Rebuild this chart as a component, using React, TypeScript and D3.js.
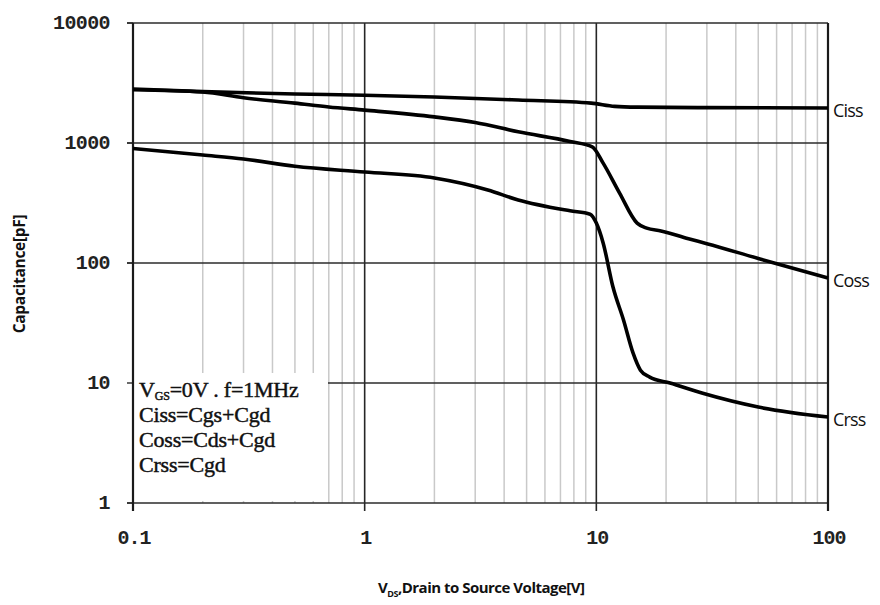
import React from 'react';
import * as d3 from 'd3';

// data (VDS in V, capacitance in pF)
const cissV = [0.1, 0.2, 0.5, 1, 2, 4.6, 9.5, 12, 15, 30, 100];
const cissC = [2820, 2680, 2560, 2500, 2420, 2280, 2150, 2020, 1990, 1970, 1960];

const cossV = [0.1, 0.2, 0.3, 0.5, 0.7, 1, 2, 3, 4.6, 7.7, 9.6, 10.7, 12.6, 15, 16.5, 19, 25, 30, 50, 100];
const cossC = [2780, 2660, 2380, 2150, 1995, 1880, 1650, 1480, 1240, 1030, 930, 680, 383, 215, 195, 185, 159, 145, 109, 75];

const crssV = [0.1, 0.2, 0.3, 0.5, 1, 2, 3.4, 4.6, 7.7, 9.4, 10, 10.7, 11.8, 13.1, 14.4, 15.5, 17, 20.8, 28.8, 50, 100];
const crssC = [900, 794, 736, 640, 573, 511, 406, 335, 272, 255, 215, 147, 63, 33.5, 17.8, 12.8, 11.2, 10, 8.2, 6.3, 5.2];

const seriesNames = ['Ciss', 'Coss', 'Crss'];
const xTicks = [0.1, 1, 10, 100];
const xTickLabels = ['0.1', '1', '10', '100'];
const yTicks = [1, 10, 100, 1000, 10000];
const yTickLabels = ['1', '10', '100', '1000', '10000'];
const notes = ['Ciss=Cgs+Cgd', 'Coss=Cds+Cgd', 'Crss=Cgd'];

export default function App() {
  const width = 880;
  const height = 605;
  const left = 133;
  const right = 828;
  const top = 23;
  const bottom = 503;

  const x = d3.scaleLog().domain([0.1, 100]).range([left, right]);
  const y = d3.scaleLog().domain([1, 10000]).range([bottom, top]);

  const line = d3
    .line<[number, number]>()
    .x((d) => x(d[0]))
    .y((d) => y(d[1]))
    .curve(d3.curveMonotoneX);

  const series = [
    cissV.map((v, i) => [v, cissC[i]] as [number, number]),
    cossV.map((v, i) => [v, cossC[i]] as [number, number]),
    crssV.map((v, i) => [v, crssC[i]] as [number, number]),
  ];

  // minor grid: 2..9 in each decade
  const minor: number[] = [];
  [0.1, 1, 10].forEach((d) => {
    for (let k = 2; k <= 9; k++) minor.push(d * k);
  });

  // annotation box (white, hides grid behind it)
  const boxX0 = left + 2;
  const boxX1 = 328;
  const boxY0 = 373;
  const boxY1 = bottom - 2;

  return (
    <svg
      width={width}
      height={height}
      style={{ position: 'absolute', top: 0, left: 0, background: '#fff' }}
    >
      <rect x={0} y={0} width={width} height={height} fill="#fff" />
      {/* minor vertical grid */}
      {minor.map((v) => (
        <line key={'m' + v} x1={x(v)} x2={x(v)} y1={top} y2={bottom} stroke="#c9c9c9" strokeWidth={1.5} />
      ))}
      {/* major vertical grid */}
      {[1, 10].map((v) => (
        <line key={'M' + v} x1={x(v)} x2={x(v)} y1={top} y2={bottom + 8} stroke="#262626" strokeWidth={1.6} />
      ))}
      {/* horizontal grid */}
      {yTicks.map((v) => (
        <line
          key={'h' + v}
          x1={v === 10 ? boxX1 : left - 6}
          x2={right}
          y1={y(v)}
          y2={y(v)}
          stroke="#2b2b2b"
          strokeWidth={v === 1 ? 1.4 : 1.6}
        />
      ))}
      {yTicks.map((v) => (
        <line key={'yt' + v} x1={left - 6} x2={left} y1={y(v)} y2={y(v)} stroke="#2b2b2b" strokeWidth={1.4} />
      ))}
      <rect x={boxX0} y={boxY0} width={boxX1 - boxX0} height={boxY1 - boxY0} fill="#fff" />
      {/* frame */}
      <line x1={left} x2={left} y1={top} y2={bottom + 8} stroke="#1a1a1a" strokeWidth={2.2} />
      <line x1={right} x2={right} y1={top} y2={bottom + 8} stroke="#1a1a1a" strokeWidth={2.2} />
      {/* curves */}
      {series.map((s, i) => (
        <path key={seriesNames[i]} d={line(s) || ''} fill="none" stroke="#000" strokeWidth={3.6} strokeLinejoin="round" />
      ))}
      {/* curve labels */}
      {series.map((s, i) => (
        <text
          key={'l' + i}
          x={right + 5}
          y={y(s[s.length - 1][1]) + 4}
          dominantBaseline="middle"
          fontFamily="'Open Sans', sans-serif"
          fontSize={18}
          letterSpacing={-0.8}
          fill="#111"
        >
          {seriesNames[i]}
        </text>
      ))}
      {/* y tick labels */}
      {yTicks.map((v, i) => (
        <text
          key={'yl' + v}
          x={110}
          y={y(v) + 1}
          textAnchor="end"
          dominantBaseline="middle"
          fontFamily="'Liberation Mono', monospace"
          fontWeight="bold"
          fontSize={20}
          letterSpacing={-0.6}
          fill="#222"
        >
          {yTickLabels[i]}
        </text>
      ))}
      {/* x tick labels */}
      {xTicks.map((v, i) => (
        <text
          key={'xl' + v}
          x={x(v) + 1}
          y={539}
          textAnchor="middle"
          dominantBaseline="middle"
          fontFamily="'Liberation Mono', monospace"
          fontWeight="bold"
          fontSize={20}
          letterSpacing={-1}
          fill="#222"
        >
          {xTickLabels[i]}
        </text>
      ))}
      {/* axis titles */}
      <text
        transform="translate(25,274) rotate(-90)"
        textAnchor="middle"
        fontFamily="'Open Sans', sans-serif"
        fontWeight="bold"
        fontSize={15.5}
        letterSpacing={-0.3}
        fill="#111"
      >
        Capacitance[pF]
      </text>
      <text
        x={378}
        y={593}
        fontFamily="'Open Sans', sans-serif"
        fontWeight="bold"
        fontSize={15}
        letterSpacing={-0.5}
        fill="#111"
      >
        V<tspan fontSize={9} dy={4}>DS</tspan>
        <tspan dy={-4}>,Drain to Source Voltage[V]</tspan>
      </text>
      {/* conditions */}
      <g fontFamily="'Liberation Serif', 'Times New Roman', serif" fontSize={22} fill="#111" stroke="#111" strokeWidth={0.45} letterSpacing={-0.2}>
        <text x={139} y={397}>
          V<tspan fontSize={12} dy={3}>GS</tspan>
          <tspan dy={-3}>=0V . f=1MHz</tspan>
        </text>
        {notes.map((t, i) => (
          <text key={t} x={139} y={422 + i * 25}>
            {t}
          </text>
        ))}
      </g>
    </svg>
  );
}
